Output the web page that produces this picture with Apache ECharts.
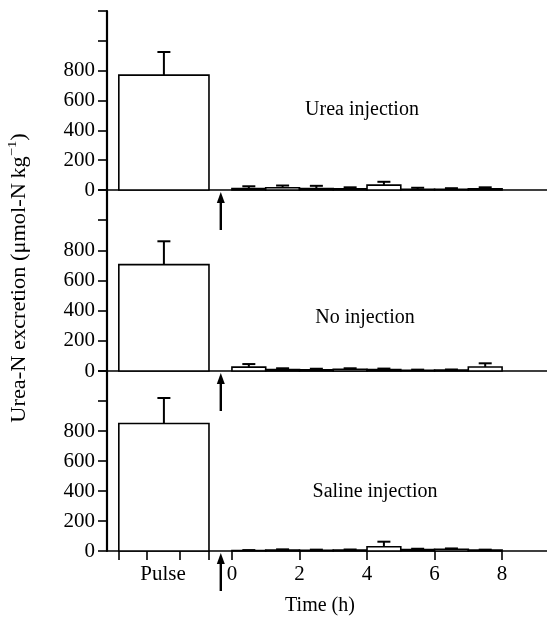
<!DOCTYPE html>
<html>
<head>
<meta charset="utf-8">
<script src="https://cdn.jsdelivr.net/npm/echarts@6/dist/echarts.min.js"></script>
<style>
  html, body { margin: 0; padding: 0; background: #fff; }
  #chart { width: 547px; height: 621px; }
</style>
</head>
<body>
<div id="chart"></div>
<script>
// Urea-N excretion after a urea pulse, for three treatment groups.
// Pulse period is shown as one wide bar, followed by hourly collections (0-8 h).

const panelNames = ['Urea injection', 'No injection', 'Saline injection'];

// Pulse period on the time axis (h) and the moment of injection (arrow)
const pulseWindow = [-3.35, -0.68];
const injectionHour = -0.33;

// Pulse-period excretion (mean, +SEM)
const pulseMean = [770, 705, 850];
const pulseErr = [155, 155, 170];

// Hourly bins after injection: start hour of each 1-h collection
const hourStarts = [0, 1, 2, 3, 4, 5, 6, 7];

const ureaHourly = [10, 15, 10, 8, 33, 5, 5, 8];
const ureaHourlyErr = [15, 15, 18, 10, 22, 10, 7, 10];

const noneHourly = [26, 10, 8, 12, 10, 5, 6, 27];
const noneHourlyErr = [20, 8, 7, 6, 6, 4, 4, 24];

const salineHourly = [3, 6, 5, 6, 28, 10, 12, 6];
const salineHourlyErr = [3, 5, 4, 4, 34, 5, 5, 3];

// Tick positions on the time axis
const timeTicks = [0, 2, 4, 6, 8];
const pulseTicks = [-3.35, -2.52, -1.55, -0.68];
const pulseLabelAt = -2.04;
const yTicks = [0, 200, 400, 600, 800];

const hourly = [ureaHourly, noneHourly, salineHourly];
const hourlyErr = [ureaHourlyErr, noneHourlyErr, salineHourlyErr];

const FONT = 'Liberation Serif';
const X_MIN = -3.7, X_MAX = 9.33;

const gridTops = [11, 190, 371];
const gridHeights = [179, 181, 180];

function rows(i) {
  const out = [[pulseWindow[0], pulseWindow[1], pulseMean[i], pulseErr[i]]];
  hourStarts.forEach((h, k) => out.push([h, h + 1, hourly[i][k], hourlyErr[i][k]]));
  return out;
}

function renderBar(params, api) {
  const x0 = api.value(0), x1 = api.value(1), v = api.value(2), e = api.value(3);
  const tl = api.coord([x0, v]);
  const br = api.coord([x1, 0]);
  const top = api.coord([(x0 + x1) / 2, v + e]);
  const mx = (tl[0] + br[0]) / 2;
  return {
    type: 'group',
    children: [
      { type: 'line', shape: { x1: mx, y1: tl[1], x2: mx, y2: top[1] },
        style: { stroke: '#000', lineWidth: 2 } },
      { type: 'line', shape: { x1: mx - 6.5, y1: top[1], x2: mx + 6.5, y2: top[1] },
        style: { stroke: '#000', lineWidth: 2 } },
      { type: 'rect', shape: { x: tl[0], y: tl[1], width: br[0] - tl[0], height: br[1] - tl[1] },
        style: { fill: '#fff', stroke: '#000', lineWidth: 1.6 } }
    ]
  };
}

const grids = [], xAxes = [], yAxes = [], series = [];
panelNames.forEach((name, i) => {
  const isBottom = i === panelNames.length - 1;
  grids.push({ left: 107, right: 0, top: gridTops[i], height: gridHeights[i] });
  xAxes.push({
    type: 'value', gridIndex: i, min: X_MIN, max: X_MAX,
    splitLine: { show: false },
    axisLine: { show: true, onZero: false, lineStyle: { color: '#000', width: 1.6 } },
    axisTick: {
      show: isBottom, inside: false, length: 9,
      customValues: pulseTicks.concat(timeTicks),
      lineStyle: { color: '#000', width: 1.6 }
    },
    axisLabel: {
      show: isBottom, margin: 13,
      customValues: [pulseLabelAt].concat(timeTicks),
      formatter: v => (v < 0 ? 'Pulse' : String(v)),
      color: '#000', fontFamily: FONT, fontSize: 21
    }
  });
  yAxes.push({
    type: 'value', gridIndex: i, min: 0, max: 1200, interval: 200,
    splitLine: { show: false },
    axisLine: { show: true, onZero: false, lineStyle: { color: '#000', width: 2.2 } },
    axisTick: { show: true, inside: false, length: 9, lineStyle: { color: '#000', width: 1.6 } },
    axisLabel: {
      margin: 12, color: '#000', fontFamily: FONT, fontSize: 21,
      showMaxLabel: true,
      formatter: v => (yTicks.indexOf(v) >= 0 ? String(v) : '')
    }
  });
  series.push({
    type: 'custom', xAxisIndex: i, yAxisIndex: i,
    data: rows(i), encode: { x: [0, 1], y: [2, 3] },
    renderItem: renderBar, clip: false, silent: true
  });
});

const chart = echarts.init(document.getElementById('chart'), null, { renderer: 'canvas' });
chart.setOption({
  animation: false,
  backgroundColor: '#fff',
  grid: grids, xAxis: xAxes, yAxis: yAxes, series: series
});

// Annotations: injection arrows, panel captions and axis titles
const textCenters = [[362, 110], [365, 318], [375, 492]];
const graphics = [];
panelNames.forEach((name, i) => {
  const p = chart.convertToPixel({ xAxisIndex: i, yAxisIndex: i }, [injectionHour, 0]);
  const tipY = p[1] + 2;
  graphics.push({
    type: 'line', shape: { x1: p[0], y1: tipY + 8, x2: p[0], y2: tipY + 38 },
    style: { stroke: '#000', lineWidth: 2.4 }
  });
  graphics.push({
    type: 'polygon', shape: { points: [[p[0], tipY], [p[0] - 4, tipY + 11], [p[0] + 4, tipY + 11]] },
    style: { fill: '#000' }
  });
  graphics.push({
    type: 'text', x: textCenters[i][0], y: textCenters[i][1],
    style: { text: name, fontFamily: FONT, fontSize: 20, fill: '#000', align: 'center', verticalAlign: 'middle' }
  });
});
graphics.push({
  type: 'text', x: 320, y: 606,
  style: { text: 'Time (h)', fontFamily: FONT, fontSize: 20, fill: '#000', align: 'center', verticalAlign: 'middle' }
});
graphics.push({
  type: 'text', x: 18, y: 278, rotation: Math.PI / 2, scaleX: 1.12,
  style: {
    text: '{n|Urea-N excretion (μmol-N\u2009kg}{s|−1}{n|)}',
    align: 'center', verticalAlign: 'middle', fill: '#000',
    rich: {
      n: { fontFamily: FONT, fontSize: 20, lineHeight: 24, verticalAlign: 'bottom' },
      s: { fontFamily: FONT, fontSize: 13, lineHeight: 24, verticalAlign: 'top' }
    }
  }
});
chart.setOption({ graphic: graphics });
</script>
</body>
</html>
